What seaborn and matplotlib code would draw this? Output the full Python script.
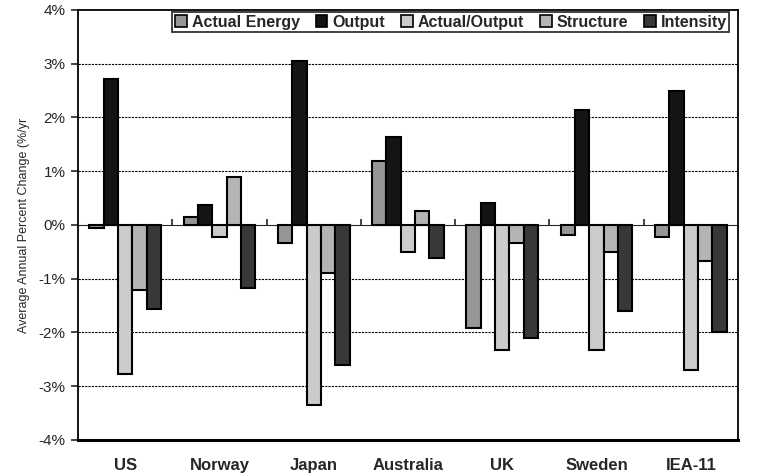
import numpy as np
import pandas as pd
import matplotlib
matplotlib.use('Agg')
import matplotlib.pyplot as plt
import seaborn as sns
from matplotlib.ticker import FuncFormatter

# Datos (% anual)
regions = ['US', 'Norway', 'Japan', 'Australia', 'UK', 'Sweden', 'IEA-11']
series = ['Actual Energy', 'Output', 'Actual/Output', 'Structure', 'Intensity']
actual_energy = [-0.05, 0.15, -0.34, 1.19, -1.92, -0.19, -0.23]
output = [2.72, 0.37, 3.05, 1.64, 0.41, 2.13, 2.50]
actual_output = [-2.77, -0.23, -3.36, -0.50, -2.32, -2.32, -2.70]
structure = [-1.21, 0.89, -0.89, 0.26, -0.34, -0.50, -0.68]
intensity = [-1.57, -1.17, -2.61, -0.61, -2.10, -1.60, -1.99]
colors = ['#969696', '#141414', '#cbcbcb', '#b4b4b4', '#383838']

df = pd.DataFrame({'Region': regions, 'Actual Energy': actual_energy, 'Output': output,
                   'Actual/Output': actual_output, 'Structure': structure, 'Intensity': intensity})
long = df.melt(id_vars='Region', var_name='Serie', value_name='Cambio')

sns.set_style('white')
plt.rcParams['font.family'] = ['Liberation Sans', 'DejaVu Sans']

fig = plt.figure(figsize=(7.76, 4.73), dpi=100)
ax = fig.add_axes([0.1005, 0.07, 0.8505, 0.909])

sns.barplot(data=long, x='Region', y='Cambio', hue='Serie', hue_order=series, order=regions,
            palette=colors, width=0.76, edgecolor='black', linewidth=1.5, saturation=1, ax=ax)

ax.set_ylim(-4, 4)
ax.set_xlim(-0.5, len(regions) - 0.5)
ax.set_yticks(np.arange(-4, 5, 1))
ax.yaxis.set_major_formatter(FuncFormatter(lambda v, p: f'{v:.0f}%'))
ax.tick_params(axis='y', length=5, width=1.2, direction='out', labelsize=11, left=True, pad=4)
ax.tick_params(axis='x', length=0, labelsize=12, pad=13)
for lab in ax.get_xticklabels():
    lab.set_fontweight('bold')

# lineas de cuadricula punteadas
for v in [-3, -2, -1, 1, 2, 3]:
    ax.axhline(v, color='black', lw=0.8, ls=(0, (2, 1)), zorder=0)

ax.set_xlabel('')
ax.set_ylabel('Average Annual Percent Change (%/yr', fontsize=9, labelpad=6)

for s in ['left', 'right', 'top']:
    ax.spines[s].set_color('black')
    ax.spines[s].set_linewidth(1.3)
ax.spines['bottom'].set_color('black')
ax.spines['bottom'].set_linewidth(2.2)

# eje de categorias en cero
zero = ax.secondary_xaxis(0.5)
zero.set_xticks(np.arange(0.5, len(regions) - 1, 1))
zero.set_xticklabels([])
zero.tick_params(length=4, width=1.2, direction='out')
zero.spines['bottom'].set_linewidth(1.6)
zero.spines['bottom'].set_color('black')

leg = ax.legend(loc='upper center', bbox_to_anchor=(0.565, 1.0), ncol=5, frameon=True,
                fancybox=False, edgecolor='black', handlelength=0.75, handleheight=0.75,
                handletextpad=0.3, columnspacing=1.0, borderpad=0.15, borderaxespad=0.15,
                prop={'weight': 'bold', 'size': 11.5})
leg.get_frame().set_linewidth(1.3)
for h in leg.legend_handles:
    h.set_linewidth(1.2)

fig.savefig('out.png', dpi=100)
